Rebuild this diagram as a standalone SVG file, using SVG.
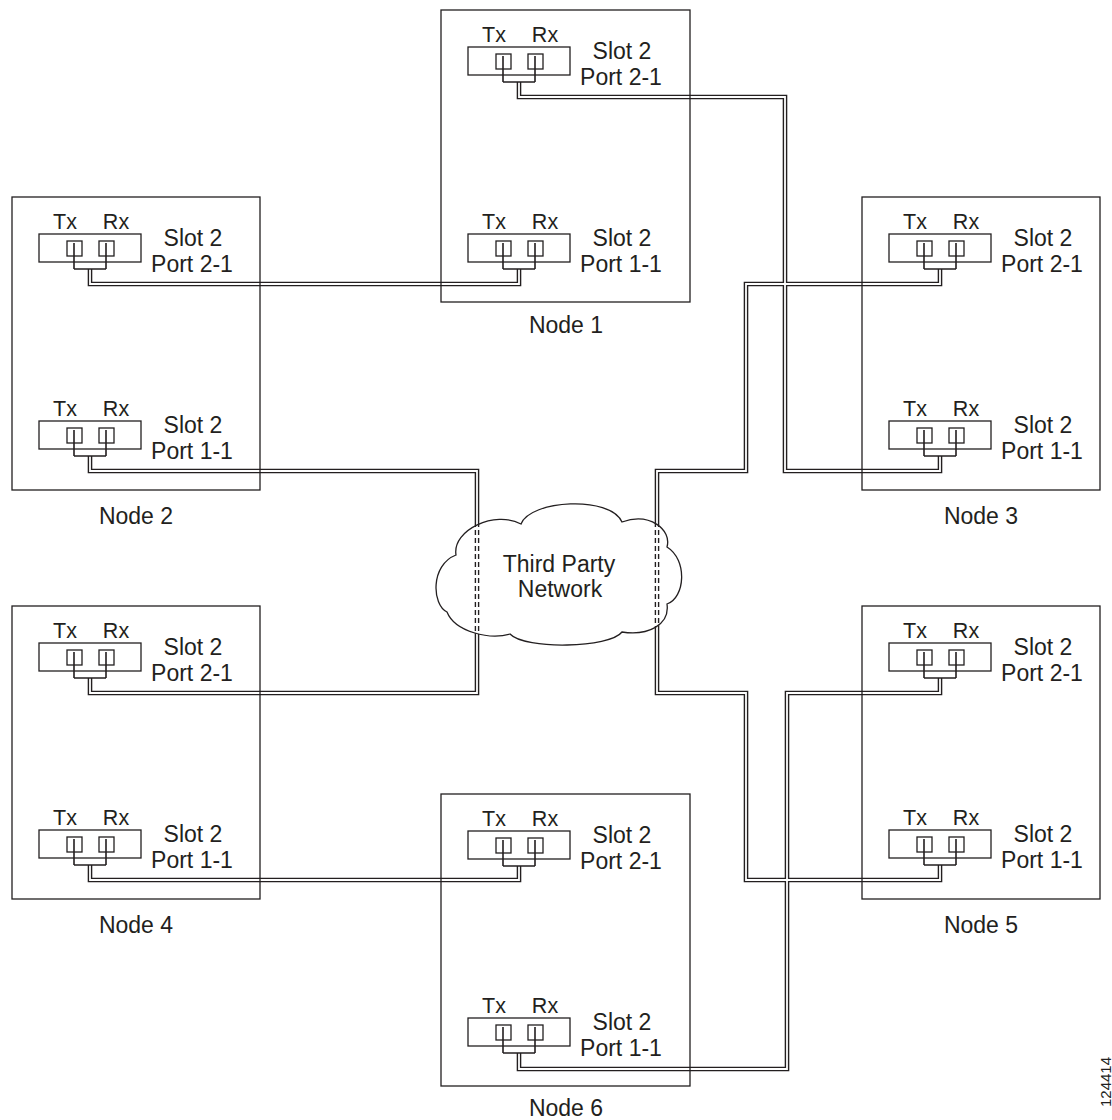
<svg xmlns="http://www.w3.org/2000/svg" width="1112" height="1120" viewBox="0 0 1112 1120">
<style>
.bg{fill:#fff}
.nb{fill:none;stroke:#231f20;stroke-width:1.3}
.mb{fill:none;stroke:#231f20;stroke-width:1.3}
.w{fill:none;stroke:#231f20;stroke-width:1.6}
.co{fill:none;stroke:#231f20;stroke-width:4.6;stroke-linejoin:miter}
.ci{fill:none;stroke:#fff;stroke-width:1.8;stroke-linejoin:miter}
.cl{fill:#fff;stroke:#231f20;stroke-width:1.3}
.da{fill:none;stroke:#231f20;stroke-width:1.4;stroke-dasharray:5 3}
text{font-family:"Liberation Sans",Arial,sans-serif;fill:#231f20;text-anchor:middle}
.t{font-size:23px}
.s{font-size:21.5px}
.id{font-size:15px}
</style>
<defs>
<path id="cloudp" d="M 447 612 C 432 605, 430 565, 456 555 C 452 530, 495 510, 521 524 C 530 500, 610 495, 622 522 C 650 512, 672 530, 667 547 C 688 560, 685 598, 667 604 C 670 625, 648 636, 622 632 C 610 648, 525 650, 510 634 C 490 640, 455 632, 447 612 Z"/>
<clipPath id="cloudclip"><use href="#cloudp"/></clipPath>
</defs>
<rect class="bg" x="0" y="0" width="1112" height="1120"/>

<g id="connectors">
<g class="co">
<path d="M 90 269 V 284 H 519 V 269"/>
<path d="M 519 82 V 97 H 785 V 471 H 940 V 456"/>
<path d="M 90 456 V 471 H 477 V 693 H 90 V 678"/>
<path d="M 940 269 V 284 H 746 V 471 H 657 V 693 H 746 V 880 H 940 V 865"/>
<path d="M 90 865 V 880 H 519 V 866"/>
<path d="M 519 1053 V 1069 H 787 V 693 H 940 V 678"/>
</g>
<g class="ci">
<path d="M 90 269 V 284 H 519 V 269"/>
<path d="M 519 82 V 97 H 785 V 471 H 940 V 456"/>
<path d="M 90 456 V 471 H 477 V 693 H 90 V 678"/>
<path d="M 940 269 V 284 H 746 V 471 H 657 V 693 H 746 V 880 H 940 V 865"/>
<path d="M 90 865 V 880 H 519 V 866"/>
<path d="M 519 1053 V 1069 H 787 V 693 H 940 V 678"/>
</g>
</g>

<g id="cloud">
<use href="#cloudp" class="cl"/>
<g clip-path="url(#cloudclip)" class="da">
<line x1="475.4" y1="490" x2="475.4" y2="660"/>
<line x1="478.6" y1="490" x2="478.6" y2="660"/>
<line x1="655.4" y1="490" x2="655.4" y2="660"/>
<line x1="658.6" y1="490" x2="658.6" y2="660"/>
</g>
<text class="t" x="559" y="572">Third Party</text>
<text class="t" x="560" y="597">Network</text>
</g>

<g id="node1">
<rect class="nb" x="441" y="10" width="249" height="292"/>
<rect class="mb" x="468" y="47" width="102" height="28"/>
<rect class="mb" x="496" y="54" width="15" height="15"/>
<rect class="mb" x="528" y="54" width="15" height="15"/>
<path class="w" d="M503 56 V82 M535 56 V82 M503 82 H535"/>
<text class="s" x="494" y="42">Tx</text><text class="s" x="545" y="42">Rx</text>
<text class="t" x="622" y="59">Slot 2</text><text class="t" x="621" y="85">Port 2-1</text>
<rect class="mb" x="468" y="234" width="102" height="28"/>
<rect class="mb" x="496" y="241" width="15" height="15"/>
<rect class="mb" x="528" y="241" width="15" height="15"/>
<path class="w" d="M503 243 V269 M535 243 V269 M503 269 H535"/>
<text class="s" x="494" y="229">Tx</text><text class="s" x="545" y="229">Rx</text>
<text class="t" x="622" y="246">Slot 2</text><text class="t" x="621" y="272">Port 1-1</text>
<text class="t" x="566" y="333">Node 1</text>
</g>

<g id="node2">
<rect class="nb" x="12" y="197" width="248" height="293"/>
<rect class="mb" x="39" y="234" width="102" height="28"/>
<rect class="mb" x="67" y="241" width="15" height="15"/>
<rect class="mb" x="99" y="241" width="15" height="15"/>
<path class="w" d="M74 243 V269 M106 243 V269 M74 269 H106"/>
<text class="s" x="65" y="229">Tx</text><text class="s" x="116" y="229">Rx</text>
<text class="t" x="193" y="246">Slot 2</text><text class="t" x="192" y="272">Port 2-1</text>
<rect class="mb" x="39" y="421" width="102" height="28"/>
<rect class="mb" x="67" y="428" width="15" height="15"/>
<rect class="mb" x="99" y="428" width="15" height="15"/>
<path class="w" d="M74 430 V456 M106 430 V456 M74 456 H106"/>
<text class="s" x="65" y="416">Tx</text><text class="s" x="116" y="416">Rx</text>
<text class="t" x="193" y="433">Slot 2</text><text class="t" x="192" y="459">Port 1-1</text>
<text class="t" x="136" y="524">Node 2</text>
</g>

<g id="node3">
<rect class="nb" x="862" y="197" width="238" height="293"/>
<rect class="mb" x="889" y="234" width="102" height="28"/>
<rect class="mb" x="917" y="241" width="15" height="15"/>
<rect class="mb" x="949" y="241" width="15" height="15"/>
<path class="w" d="M924 243 V269 M956 243 V269 M924 269 H956"/>
<text class="s" x="915" y="229">Tx</text><text class="s" x="966" y="229">Rx</text>
<text class="t" x="1043" y="246">Slot 2</text><text class="t" x="1042" y="272">Port 2-1</text>
<rect class="mb" x="889" y="421" width="102" height="28"/>
<rect class="mb" x="917" y="428" width="15" height="15"/>
<rect class="mb" x="949" y="428" width="15" height="15"/>
<path class="w" d="M924 430 V456 M956 430 V456 M924 456 H956"/>
<text class="s" x="915" y="416">Tx</text><text class="s" x="966" y="416">Rx</text>
<text class="t" x="1043" y="433">Slot 2</text><text class="t" x="1042" y="459">Port 1-1</text>
<text class="t" x="981" y="524">Node 3</text>
</g>

<g id="node4">
<rect class="nb" x="12" y="606" width="248" height="293"/>
<rect class="mb" x="39" y="643" width="102" height="28"/>
<rect class="mb" x="67" y="650" width="15" height="15"/>
<rect class="mb" x="99" y="650" width="15" height="15"/>
<path class="w" d="M74 652 V678 M106 652 V678 M74 678 H106"/>
<text class="s" x="65" y="638">Tx</text><text class="s" x="116" y="638">Rx</text>
<text class="t" x="193" y="655">Slot 2</text><text class="t" x="192" y="681">Port 2-1</text>
<rect class="mb" x="39" y="830" width="102" height="28"/>
<rect class="mb" x="67" y="837" width="15" height="15"/>
<rect class="mb" x="99" y="837" width="15" height="15"/>
<path class="w" d="M74 839 V865 M106 839 V865 M74 865 H106"/>
<text class="s" x="65" y="825">Tx</text><text class="s" x="116" y="825">Rx</text>
<text class="t" x="193" y="842">Slot 2</text><text class="t" x="192" y="868">Port 1-1</text>
<text class="t" x="136" y="933">Node 4</text>
</g>

<g id="node5">
<rect class="nb" x="862" y="606" width="238" height="293"/>
<rect class="mb" x="889" y="643" width="102" height="28"/>
<rect class="mb" x="917" y="650" width="15" height="15"/>
<rect class="mb" x="949" y="650" width="15" height="15"/>
<path class="w" d="M924 652 V678 M956 652 V678 M924 678 H956"/>
<text class="s" x="915" y="638">Tx</text><text class="s" x="966" y="638">Rx</text>
<text class="t" x="1043" y="655">Slot 2</text><text class="t" x="1042" y="681">Port 2-1</text>
<rect class="mb" x="889" y="830" width="102" height="28"/>
<rect class="mb" x="917" y="837" width="15" height="15"/>
<rect class="mb" x="949" y="837" width="15" height="15"/>
<path class="w" d="M924 839 V865 M956 839 V865 M924 865 H956"/>
<text class="s" x="915" y="825">Tx</text><text class="s" x="966" y="825">Rx</text>
<text class="t" x="1043" y="842">Slot 2</text><text class="t" x="1042" y="868">Port 1-1</text>
<text class="t" x="981" y="933">Node 5</text>
</g>

<g id="node6">
<rect class="nb" x="441" y="794" width="249" height="292"/>
<rect class="mb" x="468" y="831" width="102" height="28"/>
<rect class="mb" x="496" y="838" width="15" height="15"/>
<rect class="mb" x="528" y="838" width="15" height="15"/>
<path class="w" d="M503 840 V866 M535 840 V866 M503 866 H535"/>
<text class="s" x="494" y="826">Tx</text><text class="s" x="545" y="826">Rx</text>
<text class="t" x="622" y="843">Slot 2</text><text class="t" x="621" y="869">Port 2-1</text>
<rect class="mb" x="468" y="1018" width="102" height="28"/>
<rect class="mb" x="496" y="1025" width="15" height="15"/>
<rect class="mb" x="528" y="1025" width="15" height="15"/>
<path class="w" d="M503 1027 V1053 M535 1027 V1053 M503 1053 H535"/>
<text class="s" x="494" y="1013">Tx</text><text class="s" x="545" y="1013">Rx</text>
<text class="t" x="622" y="1030">Slot 2</text><text class="t" x="621" y="1056">Port 1-1</text>
<text class="t" x="566" y="1116">Node 6</text>
</g>

<text class="id" transform="translate(1111,1082) rotate(-90)">124414</text>
</svg>
